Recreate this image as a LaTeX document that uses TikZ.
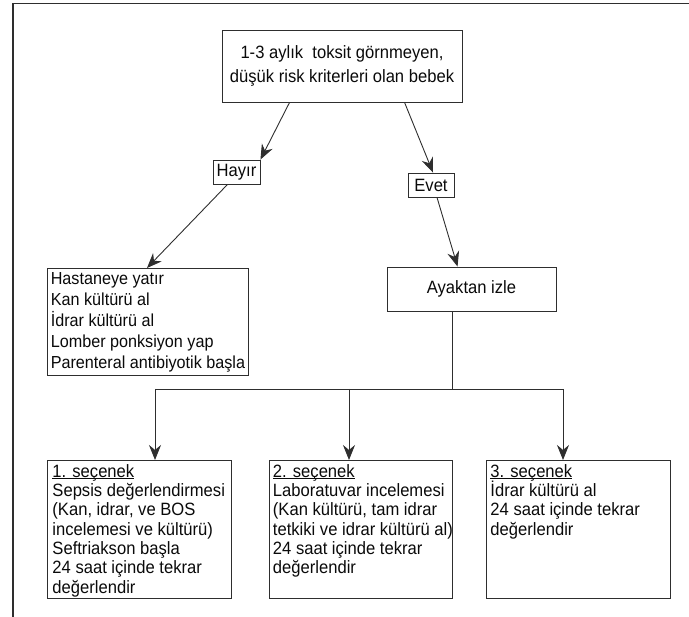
\documentclass[tikz,border=0pt]{standalone}
\usepackage{fontspec}
\setmainfont{Liberation Sans}[FakeStretch=0.93]
\usetikzlibrary{arrows.meta,calc}
\definecolor{lncol}{HTML}{2E2E2E}
\definecolor{txcol}{HTML}{0A0A0A}
\newcommand\myul[1]{\leavevmode\setbox0\hbox{#1}\rlap{\rule[-1.8pt]{\wd0}{0.7pt}}#1}
\begin{document}
\begin{tikzpicture}[x=1pt,y=-1pt,
  box/.style={draw=lncol, line width=0.9pt, text=txcol, inner sep=0pt},
  conn/.style={draw=lncol, line width=0.9pt},
  arr/.style={draw=lncol, line width=0.9pt, -{Stealth[length=15pt,width=12pt,inset=5pt]}},
  font=\fontsize{17.85}{19.3}\selectfont]
\useasboundingbox (0,0) rectangle (689,617);
\draw[draw=lncol, line width=1.5pt] (13,617) -- (13,3.5) -- (689,3.5);

\node[box, minimum width=240pt, minimum height=72pt, align=center,
      font=\fontsize{17.85}{24}\selectfont] (top) at (342,66)
      {1-3 aylık\ \ toksit görnmeyen,\\düşük risk kriterleri olan bebek};
\node[box, minimum width=47pt, minimum height=24pt] (hayir) at (236.5,172) {Hayır};
\node[box, minimum width=46pt, minimum height=24pt] (evet) at (431,185) {Evet};
\node[box, anchor=north west, minimum width=201pt, minimum height=107pt,
      align=left, font=\fontsize{17.4}{21}\selectfont] (hast) at (47,268)
      {Hastaneye yatır\\Kan kültürü al\\İdrar kültürü al\\Lomber ponksiyon yap\\Parenteral antibiyotik başla};
\node[box, minimum width=169pt, minimum height=44pt] (ayak) at (471.5,289) {Ayaktan izle\hspace{20pt}};

\node[box, anchor=north west, inner xsep=5pt, inner ysep=4pt] (o1) at (47,460)
  {\parbox[t][130pt][t]{174pt}{\raggedright\myul{1. seçenek}\\Sepsis değerlendirmesi\\(Kan, idrar, ve BOS\\incelemesi ve kültürü)\\Seftriakson başla\\24 saat içinde tekrar\\değerlendir}};
\node[box, anchor=north west, inner xsep=3.5pt, inner ysep=4pt] (o2) at (269,460)
  {\parbox[t][130pt][t]{176pt}{\raggedright\myul{2. seçenek}\\Laboratuvar incelemesi\\(Kan kültürü, tam idrar\\\mbox{tetkiki ve idrar kültürü al)}\\24 saat içinde tekrar\\değerlendir}};
\node[box, anchor=north west, inner xsep=4pt, inner ysep=4pt] (o3) at (486,460)
  {\parbox[t][130pt][t]{176pt}{\raggedright\myul{3. seçenek}\\İdrar kültürü al\\24 saat içinde tekrar\\değerlendir}};

\draw[arr] ($(top.south west)+(68,0)$) -- (hayir.north east);
\draw[arr] ($(top.south west)+(183,0)$) -- ($(evet.north)+(2,0)$);
\draw[arr] ($(hayir.south)+(-9,0)$) -- ($(hast.north west)+(100,0)$);
\draw[arr] ($(evet.south)+(6,0)$) -- ($(ayak.north west)+(71,0)$);

\coordinate (j) at (452,389);
\coordinate (b1) at (155,389);
\coordinate (b2) at (349,389);
\coordinate (b3) at (563,389);
\draw[conn] (ayak.south -| j) -- (j);
\draw[conn] (b1) -- (b3);
\draw[arr] (b1) -- (b1 |- o1.north);
\draw[arr] (b2) -- (b2 |- o2.north);
\draw[arr] (b3) -- (b3 |- o3.north);
\end{tikzpicture}
\end{document}
